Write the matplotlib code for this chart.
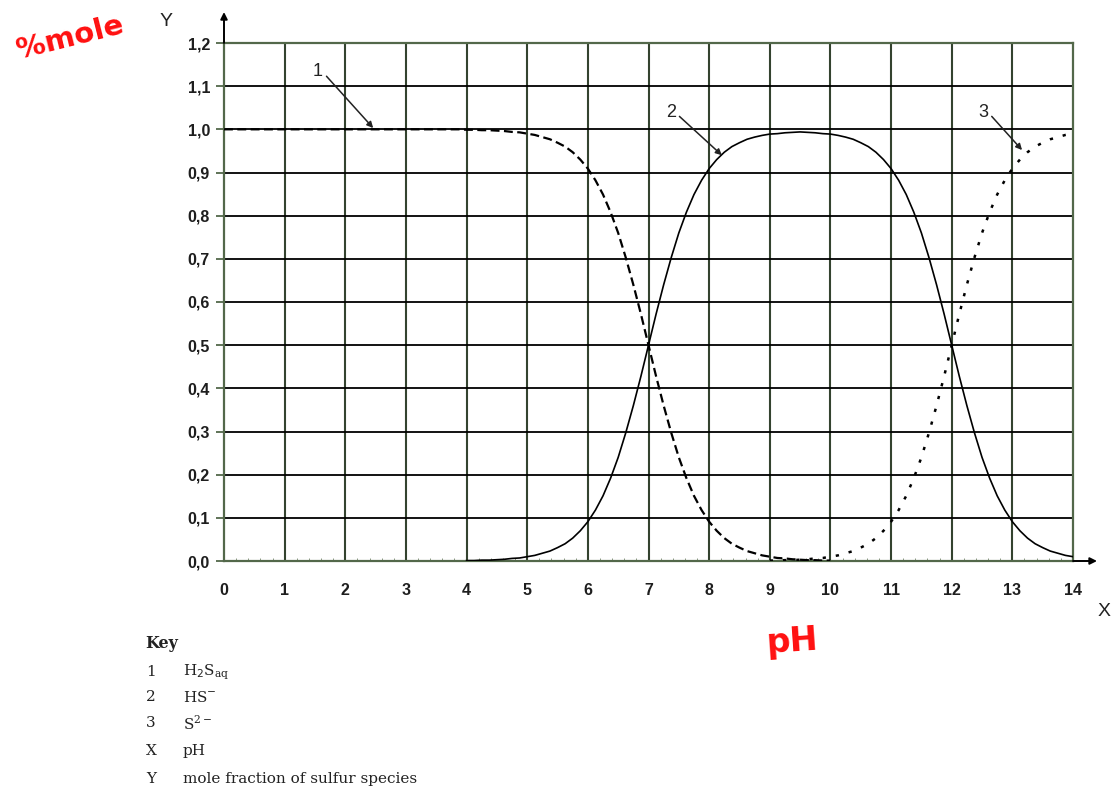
import numpy as np
import matplotlib.pyplot as plt
from matplotlib.ticker import MultipleLocator, FuncFormatter

ph_h2s = np.arange(0, 10.001, 0.125)
h2s = [1.0] * 32 + [
    0.999, 0.999, 0.998, 0.998, 0.997, 0.996, 0.994, 0.993,
    0.990, 0.987, 0.982, 0.977, 0.969, 0.960, 0.947, 0.930,
    0.909, 0.882, 0.849, 0.808, 0.760, 0.703, 0.640, 0.572,
    0.500, 0.428, 0.360, 0.297, 0.240, 0.192, 0.151, 0.118,
    0.091, 0.070, 0.053, 0.040, 0.031, 0.023, 0.018, 0.013,
    0.010, 0.007, 0.006, 0.004, 0.003, 0.002, 0.002, 0.001,
    0.001]

ph_hs = np.arange(4.0, 14.001, 0.125)
hs = [0.001, 0.001, 0.002, 0.002, 0.003, 0.004, 0.006, 0.007,
      0.010, 0.013, 0.018, 0.023, 0.031, 0.040, 0.053, 0.070,
      0.091, 0.118, 0.151, 0.192, 0.240, 0.297, 0.360, 0.428,
      0.500, 0.572, 0.640, 0.703, 0.760, 0.808, 0.849, 0.882,
      0.909, 0.930, 0.947, 0.960, 0.969, 0.977, 0.982, 0.986,
      0.989, 0.990, 0.992, 0.993, 0.994, 0.993, 0.992, 0.990,
      0.989, 0.986, 0.982, 0.977, 0.969, 0.960, 0.947, 0.930,
      0.909, 0.882, 0.849, 0.808, 0.760, 0.703, 0.640, 0.572,
      0.500, 0.428, 0.360, 0.297, 0.240, 0.192, 0.151, 0.118,
      0.091, 0.070, 0.053, 0.040, 0.031, 0.023, 0.018, 0.013,
      0.010]

ph_s = np.arange(9.0, 14.001, 0.125)
s2 = [0.001, 0.001, 0.002, 0.002, 0.003, 0.004, 0.006, 0.007,
      0.010, 0.013, 0.018, 0.023, 0.031, 0.040, 0.053, 0.070,
      0.091, 0.118, 0.151, 0.192, 0.240, 0.297, 0.360, 0.428,
      0.500, 0.572, 0.640, 0.703, 0.760, 0.808, 0.849, 0.882,
      0.909, 0.930, 0.947, 0.960, 0.969, 0.977, 0.982, 0.987,
      0.990]

curve_labels = ['1', '2', '3']
label_xy = [(1.55, 1.133), (7.37, 1.04), (12.52, 1.04)]
arrow_tip = [(2.46, 1.003), (8.21, 0.94), (13.16, 0.952)]

key_codes = ['1', '2', '3', 'X', 'Y']
key_texts = [r'H$_2$S$_{\mathregular{aq}}$', r'HS$^{\mathregular{-}}$',
             r'S$^{\mathregular{2-}}$', 'pH', 'mole fraction of sulfur species']

green = '#53684a'
grid_v = '#34432f'

fig = plt.figure(figsize=(11.13, 7.91), dpi=100)
ax = fig.add_axes([224/1113, 1-561/791, (1073-224)/1113, (561-43)/791])
ax.set_xlim(0, 14)
ax.set_ylim(0, 1.2)

for x in range(1, 14):
    ax.axvline(x, color=grid_v, lw=1.5, zorder=1)
for y in np.arange(0.1, 1.2, 0.1):
    ax.axhline(y, color='black', lw=1.3, zorder=1)

ax.plot(ph_h2s, h2s, color='black', lw=1.6, dashes=(4, 2), zorder=3)
ax.plot(ph_hs, hs, color='black', lw=1.2, zorder=3)
ax.plot(ph_s, s2, color='black', lw=1.8, dashes=(1.3, 4), zorder=3)

for lab, xy, tip in zip(curve_labels, label_xy, arrow_tip):
    ax.annotate('', xy=tip, xytext=(xy[0] + 0.14, xy[1] - 0.01),
                arrowprops=dict(arrowstyle='-|>', color='#222222', lw=1.1,
                                mutation_scale=9, shrinkA=0, shrinkB=0))
    ax.text(xy[0], xy[1], lab, fontsize=13, ha='center', va='center',
            color='#222222', family='Liberation Sans')

for sp in ax.spines.values():
    sp.set_color(green)
    sp.set_linewidth(1.6)

ax.xaxis.set_major_locator(MultipleLocator(1))
ax.xaxis.set_minor_locator(MultipleLocator(0.2))
ax.yaxis.set_major_locator(MultipleLocator(0.1))
ax.yaxis.set_major_formatter(FuncFormatter(lambda v, p: f'{v:.1f}'.replace('.', ',')))
ax.tick_params(axis='x', which='major', length=0, pad=16, labelsize=11.5,
               labelcolor='#1e1e1e')
ax.tick_params(axis='x', which='minor', direction='in', length=2.5, color='#7a8a70')
ax.tick_params(axis='y', which='major', direction='out', length=6, width=1.3,
               color=green, pad=4, labelsize=11.5, labelcolor='#1e1e1e')
for t in ax.get_xticklabels() + ax.get_yticklabels():
    t.set_family('Liberation Sans')
    t.set_fontweight('bold')

# axis arrows
ax.annotate('', xy=(0, 1.2 + 31/432), xytext=(0, 1.2), annotation_clip=False,
            arrowprops=dict(arrowstyle='-|>', color='black', lw=1.4,
                            mutation_scale=10, shrinkA=0, shrinkB=0))
ax.annotate('', xy=(14 + 24/60.6, 0), xytext=(14, 0), annotation_clip=False,
            arrowprops=dict(arrowstyle='-|>', color='black', lw=1.4,
                            mutation_scale=10, shrinkA=0, shrinkB=0))

fig.text(166/1113, 1-22/791, 'Y', fontsize=14, ha='center', va='center',
         family='Liberation Sans', color='#222222')
fig.text(1104/1113, 1-612/791, 'X', fontsize=14, ha='center', va='center',
         family='Liberation Sans', color='#222222')

# key below the chart
fig.text(145/1113, 1-643/791, 'Key', fontsize=11.5, fontweight='bold', va='center',
         family='DejaVu Serif', color='#222222')
key_y = [672, 697, 723, 751, 779]
for code, txt, y in zip(key_codes, key_texts, key_y):
    fig.text(146/1113, 1-y/791, code, fontsize=11, va='center',
             family='DejaVu Serif', color='#222222')
    fig.text(183/1113, 1-y/791, txt, fontsize=11, va='center',
             family='DejaVu Serif', color='#222222')

# handwritten notes in red
fig.text(70/1113, 1-38/791, '%mole', fontsize=21, fontweight='bold', color='#ff1010',
         ha='center', va='center', rotation=14, family='DejaVu Sans')
fig.text(792/1113, 1-642/791, 'pH', fontsize=24, fontweight='bold', color='#ff1010',
         ha='center', va='center', rotation=4, family='DejaVu Sans')

fig.savefig('out.png', dpi=100)
